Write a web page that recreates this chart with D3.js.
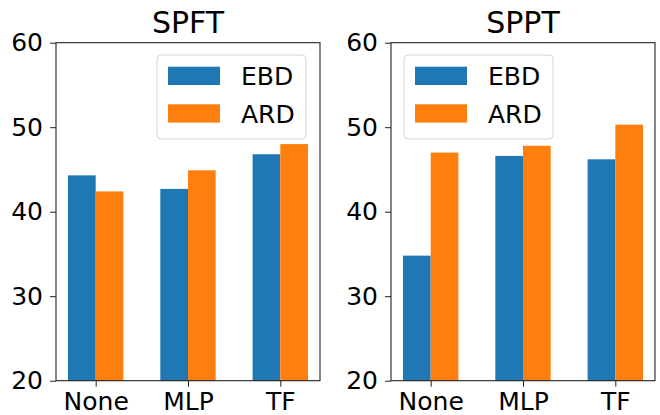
<!DOCTYPE html>
<html>
<head>
<meta charset="utf-8">
<script src="https://cdn.jsdelivr.net/npm/d3@7"></script>
<style>
  body { margin: 0; background: #fff; }
  text { font-family: "DejaVu Sans", sans-serif; fill: #000; }
</style>
</head>
<body>
<div id="chart"></div>
<script>
// data
var categories = ['None', 'MLP', 'TF'];
var seriesNames = ['EBD', 'ARD'];
var seriesColors = ['#1f77b4', '#ff7f0e'];
var panelTitles = ['SPFT', 'SPPT'];
var spftEBD = [44.3, 42.7, 46.8];
var spftARD = [42.4, 44.9, 48.0];
var spptEBD = [34.8, 46.6, 46.2];
var spptARD = [47.0, 47.8, 50.3];
var yTicks = [20, 30, 40, 50, 60];

var svgWidth = 660, svgHeight = 415;

var svg = d3.select('#chart')
  .append('svg')
  .attr('width', svgWidth)
  .attr('height', svgHeight);

// one entry per subplot
var panels = [
  { title: panelTitles[0], values: [spftEBD, spftARD], left: 56, legendX: 157 },
  { title: panelTitles[1], values: [spptEBD, spptARD], left: 391, legendX: 404 }
];

var plotTop = 42.7, plotBottom = 380.7, plotW = 264;
var barW = 0.3;

panels.forEach(function(p) {
  var g = svg.append('g').attr('transform', `translate(${p.left},0)`);

  var x = d3.scaleLinear().domain([-0.43, 2.43]).range([0, plotW]);
  var y = d3.scaleLinear().domain([20, 60]).range([plotBottom, plotTop]);

  // bars
  p.values.forEach(function(vals, s) {
    g.selectAll('.bar' + s)
      .data(vals)
      .enter()
      .append('rect')
      .attr('x', (d, i) => x(i + (s === 0 ? -barW : 0)))
      .attr('width', x(barW) - x(0))
      .attr('y', d => y(d))
      .attr('height', d => y(20) - y(d))
      .attr('fill', seriesColors[s]);
  });

  // axes
  var leftAxis = d3.axisLeft(y).tickValues(yTicks).tickSize(6).tickPadding(7);
  var bottomAxis = d3.axisBottom(x).tickValues([0, 1, 2])
    .tickFormat(i => categories[i]).tickSize(6).tickPadding(6);

  var ya = g.append('g').call(leftAxis);
  var xa = g.append('g').attr('transform', `translate(0,${plotBottom})`).call(bottomAxis);
  [ya, xa].forEach(function(a) {
    a.select('.domain').remove();
    a.selectAll('line').attr('stroke', '#222').attr('stroke-width', 1);
    a.selectAll('text').attr('font-size', '25px').attr('font-family', 'DejaVu Sans').attr('fill', '#000');
  });

  // frame
  g.append('rect')
    .attr('x', 0).attr('y', plotTop)
    .attr('width', plotW).attr('height', plotBottom - plotTop)
    .attr('fill', 'none')
    .attr('stroke', '#222')
    .attr('stroke-width', 1.1);

  // title
  g.append('text')
    .attr('x', plotW / 2)
    .attr('y', 33)
    .attr('text-anchor', 'middle')
    .attr('font-size', '30px')
    .text(p.title);

  // legend
  var lg = svg.append('g').attr('transform', `translate(${p.legendX},55)`);
  lg.append('rect')
    .attr('width', 149).attr('height', 84)
    .attr('rx', 4)
    .attr('fill', '#fff')
    .attr('fill-opacity', 0.8)
    .attr('stroke', '#d6d6d6')
    .attr('stroke-width', 1);
  seriesNames.forEach(function(name, s) {
    lg.append('rect')
      .attr('x', 11).attr('y', 11.7 + s * 37.6)
      .attr('width', 52).attr('height', 18.3)
      .attr('fill', seriesColors[s]);
    lg.append('text')
      .attr('x', 84).attr('y', 30 + s * 37.7)
      .attr('font-size', '25px')
      .text(name);
  });
});
</script>
</body>
</html>
